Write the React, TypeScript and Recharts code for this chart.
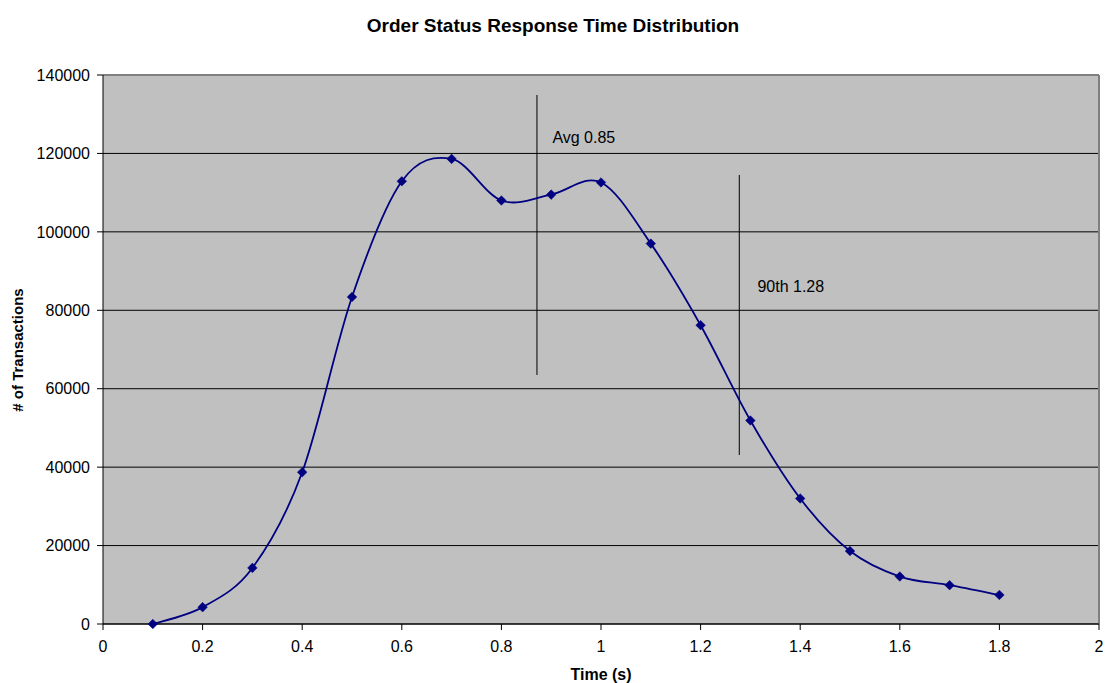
import React from 'react';
import {
  ComposedChart, Line, XAxis, YAxis, CartesianGrid, ReferenceLine, ReferenceDot,
} from 'recharts';

const times = [0.1, 0.2, 0.3, 0.4, 0.5, 0.6, 0.7, 0.8, 0.9, 1.0, 1.1, 1.2, 1.3, 1.4, 1.5, 1.6, 1.7, 1.8];
const transactions = [0, 4300, 14300, 38700, 83400, 112900, 118600, 108000, 109500, 112600, 97000, 76200, 51900, 32000, 18600, 12100, 9900, 7400];
const xTicks = [0, 0.2, 0.4, 0.6, 0.8, 1, 1.2, 1.4, 1.6, 1.8, 2];
const yTicks = [0, 20000, 40000, 60000, 80000, 100000, 120000, 140000];

const avgLine = { x: 0.8714, yTop: 134900, yBottom: 63500, labelX: 0.9024, labelY: 124000, label: 'Avg 0.85' };
const p90Line = { x: 1.2777, yTop: 114500, yBottom: 43100, labelX: 1.3141, labelY: 86200, label: '90th 1.28' };

const data = times.map((t, i) => ({ t, n: transactions[i] }));

const FONT = '"Liberation Sans", Arial, sans-serif';

// Excel-like smoothed line (Catmull-Rom style Bezier)
function excelSmooth(context: any) {
  let pts: [number, number][] = [];
  return {
    areaStart() {},
    areaEnd() {},
    lineStart() { pts = []; },
    point(x: number, y: number) { pts.push([+x, +y]); },
    lineEnd() {
      if (!pts.length) return;
      context.moveTo(pts[0][0], pts[0][1]);
      for (let i = 0; i < pts.length - 1; i++) {
        const p0 = pts[i - 1] || pts[i];
        const p1 = pts[i];
        const p2 = pts[i + 1];
        const p3 = pts[i + 2] || p2;
        const c1x = p1[0] + (p2[0] - p0[0]) / 6;
        const c1y = p1[1] + (p2[1] - p0[1]) / 6;
        const c2x = p2[0] - (p3[0] - p1[0]) / 6;
        const c2y = p2[1] - (p3[1] - p1[1]) / 6;
        context.bezierCurveTo(c1x, c1y, c2x, c2y, p2[0], p2[1]);
      }
    },
  };
}

const Diamond = (props: any) => {
  const { cx, cy, index } = props;
  if (cx == null || cy == null) return <g key={index} />;
  const r = 4.8;
  return (
    <path
      key={index}
      d={`M${cx},${cy - r}L${cx + r},${cy}L${cx},${cy + r}L${cx - r},${cy}Z`}
      fill="#000080"
      stroke="#000080"
      strokeWidth={0.5}
    />
  );
};

export default function App() {
  return (
    <div style={{ position: 'absolute', left: 0, top: 0, width: 1106, height: 683, background: '#fff' }}>
      <div
        style={{
          position: 'absolute', left: 0, top: 16, width: 1106, textAlign: 'center',
          fontFamily: FONT, fontWeight: 'bold', fontSize: 19, lineHeight: '19px', color: '#000',
        }}
      >
        Order Status Response Time Distribution
      </div>
      <ComposedChart
        width={1106}
        height={683}
        data={data}
        margin={{ top: 75, right: 7, bottom: 0, left: 23 }}
      >
        <CartesianGrid horizontal vertical={false} stroke="#000" fill="#C0C0C0" fillOpacity={1} />
        <XAxis
          dataKey="t"
          type="number"
          domain={[0, 2]}
          ticks={xTicks}
          interval={0}
          height={59}
          axisLine={{ stroke: '#000' }}
          tickLine={{ stroke: '#000' }}
          tickSize={6}
          tickMargin={11}
          tick={{ fill: '#000', fontSize: 16, fontFamily: FONT }}
          label={{ value: 'Time (s)', position: 'insideBottom', offset: 3, fill: '#000', fontSize: 16, fontWeight: 'bold', fontFamily: FONT }}
        />
        <YAxis
          type="number"
          domain={[0, 140000]}
          ticks={yTicks}
          interval={0}
          width={80}
          axisLine={{ stroke: '#000' }}
          tickLine={{ stroke: '#000' }}
          tickSize={6}
          tickMargin={7}
          tick={{ fill: '#000', fontSize: 16, fontFamily: FONT }}
          label={{
            value: '# of Transactions',
            content: () => (
              <text
                x={17}
                y={350}
                transform="rotate(-90 17 350)"
                textAnchor="middle"
                dominantBaseline="central"
                fill="#000"
                fontSize={15}
                fontWeight="bold"
                fontFamily={FONT}
              >
                # of Transactions
              </text>
            ),
          }}
        />
        <ReferenceLine y={140000} stroke="#808080" strokeWidth={2} />
        <ReferenceLine x={2} stroke="#808080" strokeWidth={2} />
        <ReferenceLine
          segment={[{ x: avgLine.x, y: avgLine.yTop }, { x: avgLine.x, y: avgLine.yBottom }]}
          stroke="#000"
          strokeWidth={1}
        />
        <ReferenceLine
          segment={[{ x: p90Line.x, y: p90Line.yTop }, { x: p90Line.x, y: p90Line.yBottom }]}
          stroke="#000"
          strokeWidth={1}
        />
        <ReferenceDot
          x={avgLine.labelX}
          y={avgLine.labelY}
          r={0}
          fill="none"
          stroke="none"
          label={{ value: avgLine.label, position: 'right', offset: 0, fill: '#000', fontSize: 16, fontFamily: FONT }}
        />
        <ReferenceDot
          x={p90Line.labelX}
          y={p90Line.labelY}
          r={0}
          fill="none"
          stroke="none"
          label={{ value: p90Line.label, position: 'right', offset: 0, fill: '#000', fontSize: 16, fontFamily: FONT }}
        />
        <Line
          dataKey="n"
          type={excelSmooth as any}
          stroke="#000080"
          strokeWidth={1.8}
          dot={Diamond}
          activeDot={false}
          isAnimationActive={false}
        />
      </ComposedChart>
    </div>
  );
}
